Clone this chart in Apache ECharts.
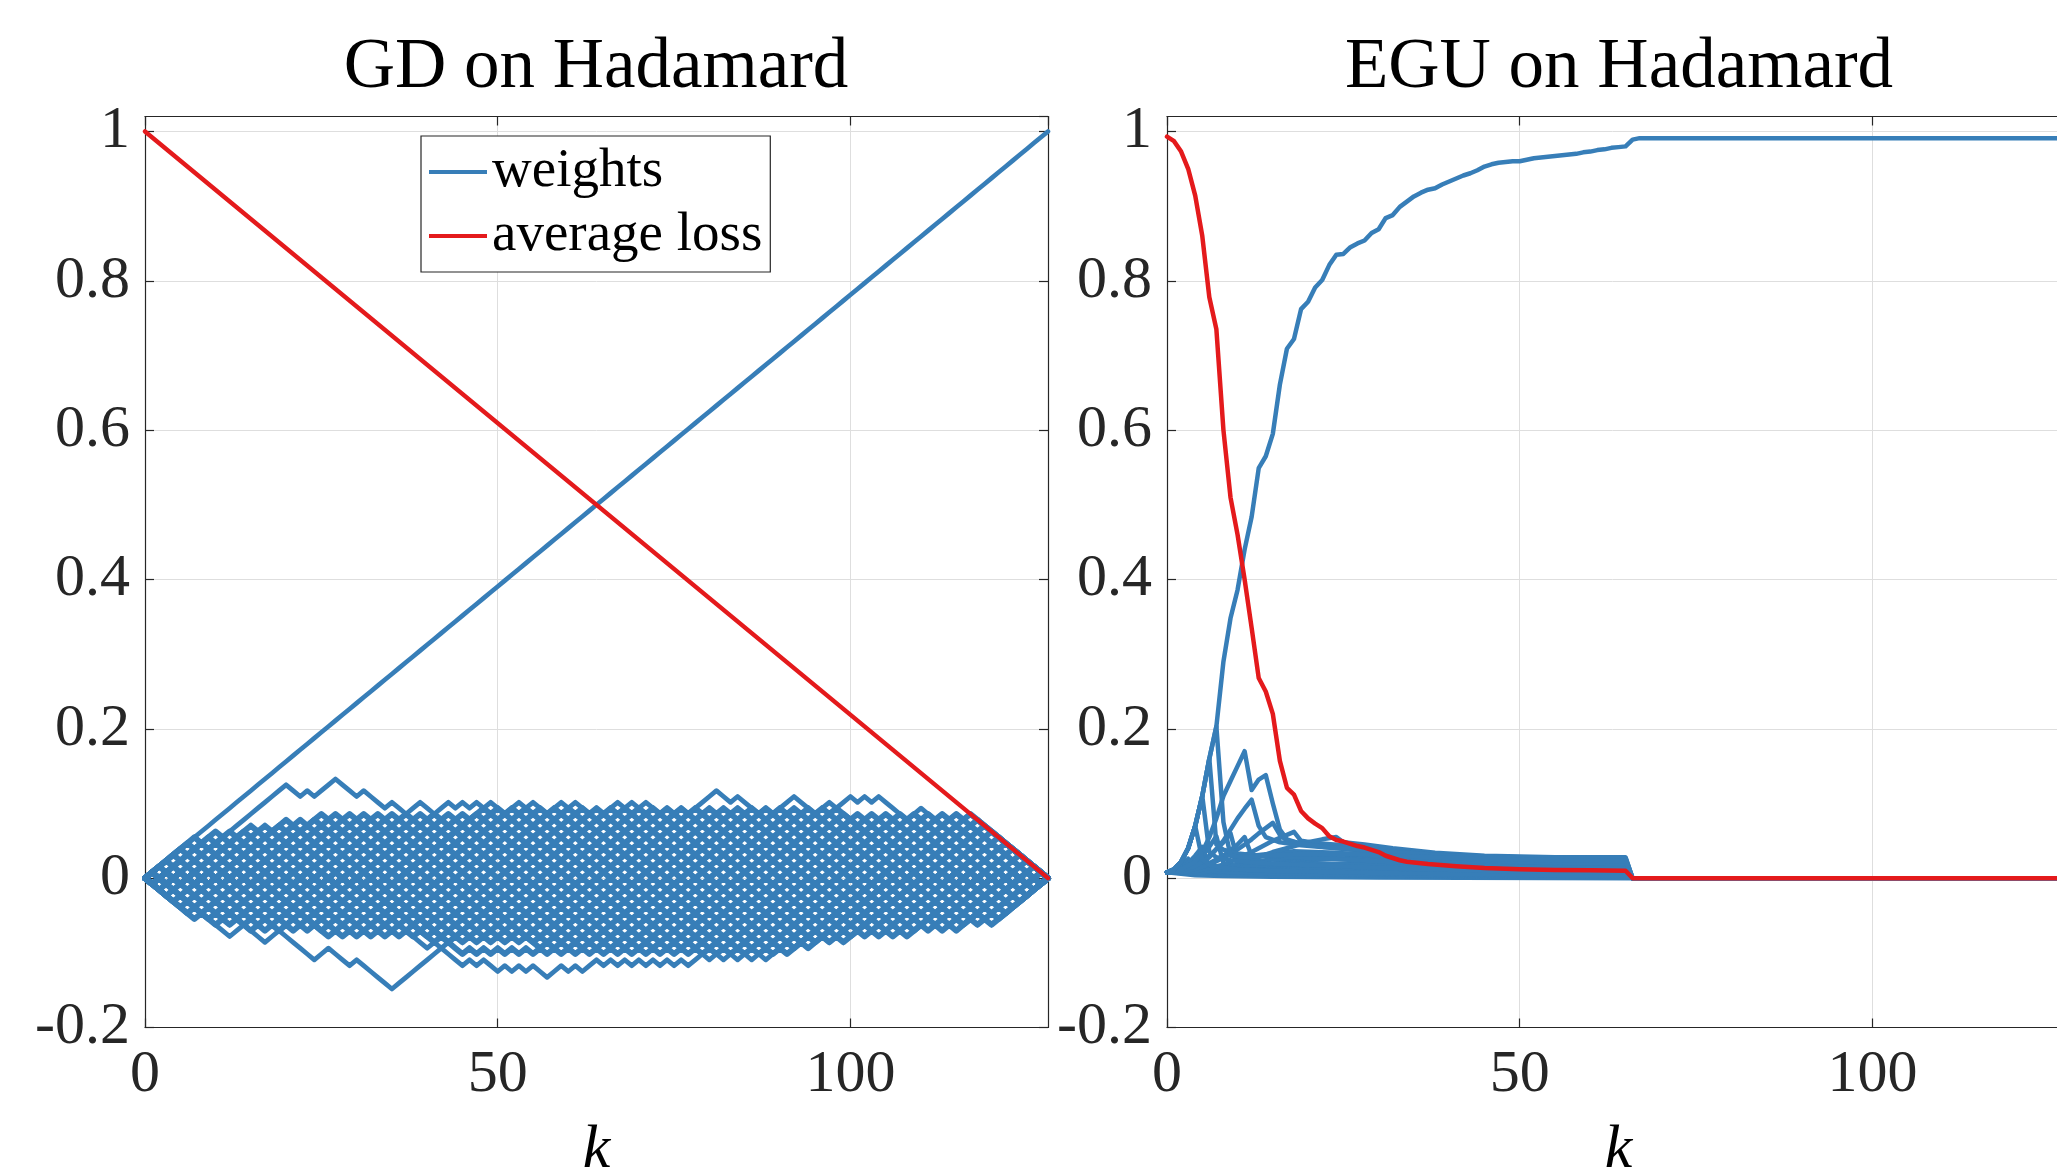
<!DOCTYPE html>
<html><head><meta charset="utf-8">
<script src="https://cdn.jsdelivr.net/npm/echarts@6.0.0/dist/echarts.min.js"></script>
<style>html,body{margin:0;padding:0;background:#fff}#chart{width:2057px;height:1170px}</style>
</head><body><div id="chart"></div>
<script>
// ---------------- data ----------------
const panelTitles = ['GD on Hadamard', 'EGU on Hadamard'];
const legendNames = ['weights', 'average loss'];
const axisName = 'k';
const xRange = { min: 0, max: 128, interval: 50 };
const yRange = { min: -0.2, max: 1.02, interval: 0.2 };

// GD weights: each weight moves by +-1/128 per step. Step runs:
// uN = N steps up, dN = N steps down, zN = N x (up,down), wN = N x (down,up)
const gdLinear = ['u128'];
const gdBands = [
  'z64',
  'u1 z63 d1',
  'u2 z62 d2',
  'u3 z61 d3',
  'u4 z60 d4',
  'u5 z59 d5',
  'u6 z58 d6',
  'z1 u7 z56 d7',
  'z3 u8 z53 d8',
  'z5 u9 z50 d9',
  'z7 u10 z47 d10',
  'z18 u11 z26 d11 z9',
  'w64',
  'd1 w63 u1',
  'd2 w62 u2',
  'd3 w61 u3',
  'd4 w60 u4',
  'd5 w59 u5',
  'd6 w58 u6',
  'w1 d7 w56 u7',
  'w3 d8 w51 u8 w2',
  'w8 d9 w42 u9 w5',
  'w15 d10 w30 u10 w9',
  'w22 d11 w20 u11 w11',
  'w16 d12 w24 u12 z12'
];
const gdOutliers = [
  'u7 d2 u11 d2 u1 d1 u3 d3 u1 d3 u1 d2 u2 d13 z38',
  'z15 u12 z3 u1 d2 u2 d1 u1 d2 u2 d1 u1 d3 u3 d1 u1 d1 u1 d2 u1 d1 u1 d1 u4 d2 u1 d3 u1 d1 u3 d3 u2 d1 u2 d1 u1 d1 u1 d4 u2 d2 u1 d1 u1 d1 u1 d11',
  'd6 u1 d5 u2 d3 u2 d5 u2 d3 u1 d5 u19 w37',
  'z14 d12 u1 d4 u1 d1 u1 d2 u1 d1 u1 d1 u1 d2 u2 d1 u1 d1 u2 d1 u1 w6 z3 u1 d1 u1 d1 u3 d1 u2 d1 u1 d1 u11 z10'
];
const gdLoss = [[0, 1], [128, 0]];

// EGU: main weight
const eguMain = [
  [0,0.0078],[1,0.012],[2,0.022],[3,0.04],[4,0.07],[5,0.11],[6,0.16],[7,0.203],[8,0.29],[9,0.348],
  [10,0.386],[11,0.44],[12,0.484],[13,0.549],[14,0.565],[15,0.595],[16,0.661],[17,0.709],[18,0.722],[19,0.762],
  [20,0.772],[21,0.791],[22,0.801],[23,0.821],[24,0.835],[25,0.836],[26,0.845],[27,0.85],[28,0.854],[29,0.864],
  [30,0.869],[31,0.884],[32,0.888],[33,0.899],[34,0.906],[35,0.913],[36,0.918],[37,0.922],[38,0.924],[39,0.929],
  [40,0.933],[41,0.937],[42,0.941],[43,0.944],[44,0.948],[45,0.953],[46,0.956],[47,0.958],[48,0.959],[49,0.96],
  [50,0.96],[51,0.962],[52,0.964],[53,0.965],[54,0.966],[55,0.967],[56,0.968],[57,0.969],[58,0.97],[59,0.972],
  [60,0.973],[61,0.975],[62,0.976],[63,0.978],[64,0.979],[65,0.98],[66,0.989],[67,0.991],[128,0.991]
];
const eguLoss = [
  [0,0.993],[1,0.987],[2,0.973],[3,0.95],[4,0.914],[5,0.86],[6,0.778],[7,0.735],[8,0.6],[9,0.51],
  [10,0.46],[11,0.4],[12,0.335],[13,0.268],[14,0.25],[15,0.22],[16,0.157],[17,0.121],[18,0.112],[19,0.09],
  [20,0.08],[21,0.073],[22,0.067],[23,0.056],[24,0.051],[25,0.049],[26,0.046],[27,0.043],[28,0.041],[29,0.038],
  [30,0.035],[31,0.03],[32,0.027],[33,0.024],[34,0.022],[35,0.021],[37,0.019],[41,0.016],[45,0.0135],[50,0.012],
  [55,0.011],[60,0.0106],[65,0.0099],[66,0],[128,0]
];
// EGU: other weights
const eguSpike7 = [[0,0.0078],[1,0.012],[2,0.022],[3,0.04],[4,0.07],[5,0.11],[6,0.16],[7,0.203],[8,0.075],[9,0.03],[11,0.028],[14,0.03],[18,0.032],[24,0.033],[30,0.031],[40,0.027],[55,0.024],[65,0.023],[66,0],[128,0]];
const eguSpike6 = [[0,0.0078],[1,0.012],[2,0.022],[3,0.04],[4,0.07],[5,0.11],[6,0.16],[7,0.045],[8,0.038],[10,0.033],[13,0.03],[18,0.028],[25,0.025],[35,0.02],[50,0.015],[65,0.013],[66,0],[128,0]];
const eguSpike5 = [[0,0.0078],[1,0.012],[2,0.022],[3,0.04],[4,0.07],[5,0.11],[6,0.035],[7,0.028],[9,0.024],[12,0.021],[16,0.019],[22,0.017],[30,0.014],[45,0.01],[65,0.008],[66,0],[128,0]];
const eguSpike4 = [[0,0.0078],[1,0.012],[2,0.022],[3,0.04],[4,0.07],[5,0.025],[6,0.018],[8,0.014],[10,0.012],[14,0.01],[20,0.009],[30,0.007],[45,0.005],[65,0.004],[66,0],[128,0]];
const eguPeak11 = [[0,0.0078],[2,0.012],[4,0.022],[5,0.035],[6,0.055],[7,0.08],[8,0.11],[9,0.13],[10,0.15],[11,0.17],[12,0.118],[13,0.132],[14,0.138],[15,0.1],[16,0.065],[17,0.052],[19,0.046],[22,0.042],[26,0.039],[32,0.035],[40,0.03],[50,0.027],[60,0.026],[65,0.026],[66,0],[128,0]];
const eguPeak12 = [[0,0.0078],[2,0.01],[4,0.016],[6,0.028],[8,0.05],[9,0.065],[10,0.08],[11,0.093],[12,0.105],[13,0.07],[14,0.055],[16,0.048],[19,0.044],[24,0.04],[30,0.035],[40,0.027],[50,0.022],[60,0.02],[65,0.02],[66,0],[128,0]];
const eguPeak15 = [[0,0.0078],[3,0.01],[6,0.018],[9,0.032],[11,0.045],[12,0.052],[13,0.06],[14,0.067],[15,0.074],[16,0.058],[17,0.05],[20,0.045],[25,0.04],[32,0.034],[42,0.027],[55,0.022],[65,0.021],[66,0],[128,0]];
const eguPeak18 = [[0,0.0078],[4,0.009],[8,0.018],[12,0.035],[15,0.05],[17,0.058],[18,0.062],[19,0.05],[21,0.047],[25,0.044],[30,0.038],[38,0.031],[50,0.028],[65,0.027],[66,0],[128,0]];
const eguPeak24 = [[0,0.0078],[5,0.008],[10,0.018],[15,0.035],[20,0.048],[22,0.052],[24,0.055],[25,0.048],[28,0.045],[32,0.04],[38,0.034],[45,0.03],[55,0.028],[65,0.028],[66,0],[128,0]];
const eguFan3 = [[0,0.0078],[1,0.011],[2,0.017],[3,0.026],[4,0.012],[6,0.01],[10,0.008],[20,0.006],[40,0.004],[65,0.003],[66,0],[128,0]];
const eguFan5 = [[0,0.0078],[1,0.01],[2,0.014],[3,0.02],[4,0.03],[5,0.042],[6,0.015],[8,0.012],[12,0.011],[20,0.012],[30,0.01],[45,0.007],[65,0.006],[66,0],[128,0]];
const eguFan7 = [[0,0.0078],[2,0.012],[4,0.022],[5,0.03],[6,0.042],[7,0.056],[8,0.02],[10,0.016],[14,0.018],[20,0.02],[28,0.018],[40,0.013],[55,0.01],[65,0.009],[66,0],[128,0]];
const eguFan9 = [[0,0.0078],[2,0.011],[4,0.018],[6,0.03],[8,0.048],[9,0.06],[10,0.025],[12,0.022],[16,0.026],[22,0.028],[30,0.024],[40,0.019],[55,0.016],[65,0.015],[66,0],[128,0]];
const eguFan11 = [[0,0.0078],[3,0.011],[6,0.02],[8,0.03],[10,0.045],[11,0.055],[12,0.03],[14,0.032],[18,0.036],[24,0.034],[32,0.028],[45,0.022],[65,0.019],[66,0],[128,0]];
const eguLow1 = [[0,0.0078],[2,0.006],[4,0.004],[8,0.003],[15,0.002],[30,0.001],[66,0],[128,0]];
const eguLow2 = [[0,0.0078],[2,0.007],[5,0.006],[10,0.005],[20,0.004],[35,0.003],[65,0.002],[66,0],[128,0]];
const eguLow3 = [[0,0.0078],[3,0.008],[8,0.009],[14,0.01],[22,0.011],[35,0.009],[50,0.007],[65,0.006],[66,0],[128,0]];
const eguBody1 = [[0,0.0078],[4,0.009],[8,0.012],[12,0.016],[16,0.02],[20,0.024],[26,0.027],[34,0.025],[44,0.02],[55,0.017],[65,0.016],[66,0],[128,0]];
const eguBody2 = [[0,0.0078],[5,0.008],[10,0.01],[15,0.014],[20,0.017],[26,0.02],[34,0.021],[44,0.018],[55,0.014],[65,0.012],[66,0],[128,0]];
const eguBody3 = [[0,0.0078],[6,0.009],[12,0.015],[18,0.024],[24,0.032],[30,0.034],[38,0.03],[48,0.025],[58,0.021],[65,0.02],[66,0],[128,0]];
const eguBody4 = [[0,0.0078],[4,0.007],[10,0.008],[16,0.011],[24,0.014],[32,0.016],[42,0.014],[54,0.011],[65,0.01],[66,0],[128,0]];
const eguWeights = [eguLow1, eguLow2, eguLow3, eguBody4, eguBody2, eguBody1, eguBody3, eguFan3, eguFan5, eguFan7, eguFan9, eguFan11,
  eguPeak24, eguPeak18, eguPeak15, eguPeak12, eguPeak11, eguSpike4, eguSpike5, eguSpike6, eguSpike7];

// ---------------- chart ----------------
const FONT = '"Liberation Serif", "DejaVu Serif", serif';
const BLUE = '#377eb8', RED = '#e41a1c', AX = '#262626', GRIDC = '#dedede';

function walkPoints(code) {
  const pts = [[0, 0]]; let k = 0, lv = 0;
  const pat = { u: 'u', d: 'd', z: 'ud', w: 'du' };
  code.trim().split(/\s+/).forEach(tok => {
    const n = parseInt(tok.slice(1), 10), p = pat[tok[0]];
    for (let i = 0; i < n; i++) for (const s of p) { lv += (s === 'u' ? 1 : -1); k++; pts.push([k, lv / 128]); }
  });
  return pts;
}

const lineAx = { show: true, onZero: false, lineStyle: { color: AX, width: 1.2 } };
const tickAx = { show: true, inside: true, length: 9, lineStyle: { color: AX, width: 1.2 } };
const labelStyle = { fontFamily: FONT, fontSize: 60, color: AX };

function makeX(g) {
  return [
    Object.assign({ gridIndex: g, type: 'value', position: 'bottom', name: axisName, nameLocation: 'middle', nameGap: 92,
      nameTextStyle: { fontFamily: FONT, fontStyle: 'italic', fontSize: 62, color: '#000' },
      axisLine: lineAx, axisTick: tickAx,
      axisLabel: Object.assign({ show: true, margin: 18, showMaxLabel: false }, labelStyle),
      splitLine: { show: true, lineStyle: { color: GRIDC, width: 1 } } }, xRange),
    Object.assign({ gridIndex: g, type: 'value', position: 'top', axisLine: lineAx, axisTick: tickAx,
      axisLabel: { show: false }, splitLine: { show: false } }, xRange)
  ];
}
function makeY(g) {
  return [
    Object.assign({ gridIndex: g, type: 'value', position: 'left', axisLine: lineAx, axisTick: tickAx,
      axisLabel: Object.assign({ show: true, margin: 15, showMaxLabel: false }, labelStyle),
      splitLine: { show: true, lineStyle: { color: GRIDC, width: 1 } } }, yRange),
    Object.assign({ gridIndex: g, type: 'value', position: 'right', axisLine: lineAx, axisTick: tickAx,
      axisLabel: { show: false }, splitLine: { show: false } }, yRange)
  ];
}

function lineSeries(name, data, color, xi, yi, w) {
  return { name: name, type: 'line', xAxisIndex: xi, yAxisIndex: yi, data: data, symbol: 'none', showSymbol: false,
    lineStyle: { color: color, width: w, join: 'round', cap: 'round' }, itemStyle: { color: color },
    silent: true, animation: false, emphasis: { disabled: true } };
}

const series = [];
gdLinear.forEach(c => series.push(lineSeries(legendNames[0], walkPoints(c), BLUE, 0, 0, 4.6)));
gdBands.forEach(c => series.push(lineSeries(legendNames[0], walkPoints(c), BLUE, 0, 0, 5.9)));
gdOutliers.forEach(c => series.push(lineSeries(legendNames[0], walkPoints(c), BLUE, 0, 0, 4.8)));
series.push(lineSeries(legendNames[1], gdLoss, RED, 0, 0, 4.4));
eguWeights.forEach(d => series.push(lineSeries(legendNames[0], d, BLUE, 2, 2, 4.5)));
series.push(lineSeries(legendNames[0], eguMain, BLUE, 2, 2, 4.5));
series.push(lineSeries(legendNames[1], eguLoss, RED, 2, 2, 4.5));

const option = {
  backgroundColor: '#fff',
  animation: false,
  grid: [
    { left: 145, top: 116.5, width: 903, height: 911, outerBoundsMode: 'none', containLabel: false },
    { left: 1167, top: 116.5, width: 903, height: 911, outerBoundsMode: 'none', containLabel: false }
  ],
  xAxis: makeX(0).concat(makeX(1)),
  yAxis: makeY(0).concat(makeY(1)),
  legend: {
    left: 421, top: 136, orient: 'vertical', data: legendNames, icon: 'rect',
    itemWidth: 58, itemHeight: 4, itemGap: 8, padding: [8, 8, 8, 8],
    borderColor: AX, borderWidth: 1.2, backgroundColor: '#fff', selectedMode: false,
    textStyle: { fontFamily: FONT, fontSize: 55, color: '#000', lineHeight: 56 }
  },
  graphic: [
    { type: 'text', x: 596, y: 68, style: { text: panelTitles[0], fontFamily: FONT, fontSize: 71, fill: '#000', align: 'center', verticalAlign: 'middle' } },
    { type: 'text', x: 1619, y: 68, style: { text: panelTitles[1], fontFamily: FONT, fontSize: 71, fill: '#000', align: 'center', verticalAlign: 'middle' } }
  ],
  series: series
};

const chart = echarts.init(document.getElementById('chart'), null, { renderer: 'canvas', width: 2057, height: 1170 });
chart.setOption(option);
</script></body></html>
